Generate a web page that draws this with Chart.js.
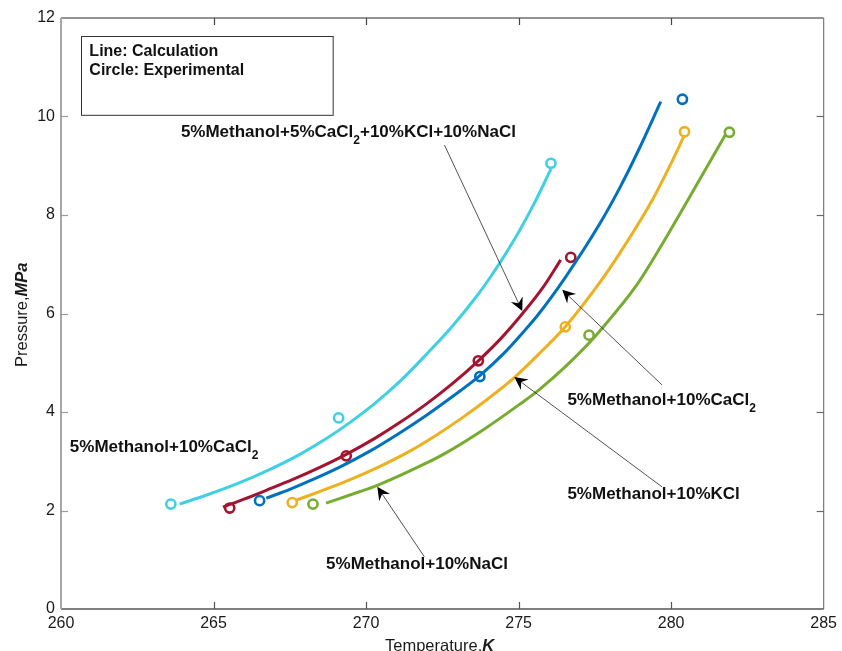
<!DOCTYPE html>
<html>
<head>
<meta charset="utf-8">
<script src="https://cdn.jsdelivr.net/npm/chart.js@4/dist/chart.umd.min.js"></script>
<style>
  html, body { margin: 0; padding: 0; background: #ffffff; }
  #wrap { width: 842px; height: 651px; position: relative; }
</style>
</head>
<body>
<div id="wrap"><canvas id="c" width="842" height="651"></canvas></div>
<script>
// ---- Calculated equilibrium curves: temperature (K) / pressure (MPa) ----
const cyanLineT   = [263.89, 264.8, 265.8, 266.8, 267.8, 268.7, 269.5, 270.3, 271.09, 271.9, 272.8, 273.6, 274.0, 274.5, 275.0, 275.5, 276.06];
const cyanLineP   = [2.13, 2.32, 2.55, 2.82, 3.13, 3.46, 3.80, 4.18, 4.61, 5.12, 5.72, 6.33, 6.67, 7.14, 7.65, 8.22, 8.93];

const redLineT    = [265.31, 266.0, 266.73, 267.6, 268.5, 269.35, 270.3, 271.09, 271.97, 272.8, 273.68, 274.4, 275.13, 275.8, 276.38];
const redLineP    = [2.07, 2.23, 2.41, 2.63, 2.88, 3.14, 3.47, 3.78, 4.16, 4.56, 5.04, 5.48, 6.0, 6.53, 7.09];

const blueLineT   = [266.73, 267.5, 268.3, 269.1, 270.11, 271.09, 271.97, 272.8, 273.73, 274.5, 275.18, 275.67, 276.55, 277.64, 278.29, 278.95, 279.66];
const blueLineP   = [2.25, 2.43, 2.64, 2.87, 3.20, 3.57, 3.93, 4.30, 4.74, 5.18, 5.64, 6.0, 6.75, 7.80, 8.52, 9.34, 10.30];

const yellowLineT = [267.71, 268.5, 269.3, 270.44, 271.42, 272.3, 273.1, 274.0, 274.86, 275.67, 276.53, 277.64, 278.29, 279.38, 280.0, 280.42];
const yellowLineP = [2.21, 2.39, 2.58, 2.89, 3.20, 3.53, 3.86, 4.27, 4.70, 5.18, 5.73, 6.61, 7.2, 8.3, 9.05, 9.6];

const greenLineT  = [268.69, 269.78, 270.33, 271.97, 272.62, 273.82, 275.02, 275.67, 276.5, 277.31, 277.64, 278.84, 279.7, 280.47, 281.13, 281.78];
const greenLineP  = [2.15, 2.38, 2.50, 2.96, 3.17, 3.63, 4.15, 4.45, 4.90, 5.40, 5.63, 6.55, 7.40, 8.22, 8.93, 9.63];

// ---- Experimental points ----
const cyanExpT   = [263.6, 269.1, 276.06];
const cyanExpP   = [2.13, 3.88, 9.05];
const redExpT    = [265.53, 269.35, 273.68, 276.71];
const redExpP    = [2.05, 3.11, 5.04, 7.14];
const blueExpT   = [266.51, 273.73, 280.37];
const blueExpP   = [2.20, 4.72, 10.35];
const yellowExpT = [267.58, 276.53, 280.44];
const yellowExpP = [2.16, 5.73, 9.69];
const greenExpT  = [268.26, 277.31, 281.91];
const greenExpP  = [2.13, 5.56, 9.68];

// ---- Axis ticks ----
const xTicks = [260, 265, 270, 275, 280, 285];
const yTicks = [0, 2, 4, 6, 8, 10, 12];

const FONT = '"Liberation Sans", Arial, Helvetica, sans-serif';
const COLORS = {
  cyan: '#3fd0e3',
  red: '#a2142f',
  blue: '#0072bd',
  yellow: '#edb120',
  green: '#77ac30'
};

const pairs = (xs, ys) => xs.map((x, i) => ({ x: x, y: ys[i] }));

function lineSet(xs, ys, color) {
  return {
    data: pairs(xs, ys),
    showLine: true,
    borderColor: color,
    borderWidth: 3,
    pointRadius: 0,
    cubicInterpolationMode: 'monotone',
    fill: false
  };
}
function pointSet(xs, ys, color) {
  return {
    data: pairs(xs, ys),
    showLine: false,
    borderColor: color,
    backgroundColor: 'rgba(0,0,0,0)',
    pointStyle: 'circle',
    pointRadius: 4.6,
    pointBorderWidth: 2.6
  };
}

// Text with "_n" marking a subscript digit
function drawRich(ctx, str, x, y, size) {
  const parts = str.split(/_(\d)/);
  let cx = x;
  parts.forEach((s, i) => {
    if (!s) return;
    const sub = i % 2 === 1;
    ctx.font = 'bold ' + (sub ? Math.round(size * 0.68) : size) + 'px ' + FONT;
    ctx.fillText(s, cx, sub ? y + size * 0.42 : y);
    cx += ctx.measureText(s).width;
  });
}

function drawArrow(ctx, x0, y0, x1, y1) {
  const a = Math.atan2(y1 - y0, x1 - x0);
  const ux = Math.cos(a), uy = Math.sin(a);
  const nx = -uy, ny = ux;
  const L = 13, W = 6.5, N = 8.5;
  ctx.strokeStyle = '#262626';
  ctx.lineWidth = 0.8;
  ctx.beginPath();
  ctx.moveTo(x0, y0);
  ctx.lineTo(x1 - N * ux, y1 - N * uy);
  ctx.stroke();
  ctx.fillStyle = '#000000';
  ctx.beginPath();
  ctx.moveTo(x1, y1);
  ctx.lineTo(x1 - L * ux + W * nx, y1 - L * uy + W * ny);
  ctx.lineTo(x1 - N * ux, y1 - N * uy);
  ctx.lineTo(x1 - L * ux - W * nx, y1 - L * uy - W * ny);
  ctx.closePath();
  ctx.fill();
}

// Frame with inward ticks, axis titles and the curve annotations
const decor = {
  id: 'decor',
  afterDraw(chart) {
    const ctx = chart.ctx;
    const xs = chart.scales.x, ys = chart.scales.y;
    const P = (t, p) => [xs.getPixelForValue(t), ys.getPixelForValue(p)];
    const L = xs.left, R = xs.right, T = ys.top, B = ys.bottom;
    ctx.save();

    // frame
    ctx.lineWidth = 1.2;
    ctx.strokeStyle = '#2b2b2b';
    ctx.beginPath(); ctx.moveTo(L, T); ctx.lineTo(R, T); ctx.stroke();
    ctx.strokeStyle = '#7a7a7a';
    ctx.beginPath(); ctx.moveTo(R, T); ctx.lineTo(R, B); ctx.stroke();
    ctx.strokeStyle = '#555555';
    ctx.lineWidth = 1.6;
    ctx.beginPath(); ctx.moveTo(L, B); ctx.lineTo(R, B); ctx.stroke();
    ctx.strokeStyle = '#a8a8a8';
    ctx.lineWidth = 2;
    ctx.beginPath(); ctx.moveTo(L, T); ctx.lineTo(L, B); ctx.stroke();

    // inward tick marks
    const tl = 7;
    ctx.lineWidth = 1.2;
    xTicks.slice(1, -1).forEach(v => {
      const x = Math.round(xs.getPixelForValue(v)) + 0.5;
      ctx.strokeStyle = '#555555';
      ctx.beginPath(); ctx.moveTo(x, B); ctx.lineTo(x, B - tl); ctx.stroke();
      ctx.strokeStyle = '#444444';
      ctx.beginPath(); ctx.moveTo(x, T); ctx.lineTo(x, T + tl); ctx.stroke();
    });
    yTicks.slice(1, -1).forEach(v => {
      const y = Math.round(ys.getPixelForValue(v)) + 0.5;
      ctx.strokeStyle = '#9a9a9a';
      ctx.beginPath(); ctx.moveTo(L, y); ctx.lineTo(L + tl, y); ctx.stroke();
      ctx.strokeStyle = '#666666';
      ctx.beginPath(); ctx.moveTo(R, y); ctx.lineTo(R - tl, y); ctx.stroke();
    });

    // note box
    const b0 = P(260.65, 11.63), b1 = P(268.9, 10.03);
    ctx.strokeStyle = '#333333';
    ctx.lineWidth = 1;
    ctx.strokeRect(Math.round(b0[0]) + 0.5, Math.round(b0[1]) + 0.5, b1[0] - b0[0], b1[1] - b0[1]);
    ctx.fillStyle = '#111111';
    ctx.textBaseline = 'alphabetic';
    ctx.textAlign = 'left';
    ctx.font = 'bold 16px ' + FONT;
    let q = P(260.93, 11.23);
    ctx.fillText('Line: Calculation', q[0], q[1]);
    q = P(260.93, 10.84);
    ctx.fillText('Circle: Experimental', q[0], q[1]);

    // curve labels
    const labels = [
      ['5%Methanol+5%CaCl_2+10%KCl+10%NaCl', 263.93, 9.58],
      ['5%Methanol+10%CaCl_2', 260.29, 3.19],
      ['5%Methanol+10%CaCl_2', 276.60, 4.14],
      ['5%Methanol+10%KCl', 276.60, 2.23],
      ['5%Methanol+10%NaCl', 268.69, 0.81]
    ];
    ctx.fillStyle = '#111111';
    labels.forEach(l => {
      const p = P(l[1], l[2]);
      drawRich(ctx, l[0], p[0], p[1], 17);
    });

    // pointer arrows
    const arrows = [
      [272.57, 9.42, 275.12, 6.05],
      [279.70, 4.55, 276.43, 6.48],
      [279.70, 2.48, 274.86, 4.71],
      [271.91, 1.06, 270.37, 2.48]
    ];
    arrows.forEach(a => {
      const s = P(a[0], a[1]), e = P(a[2], a[3]);
      drawArrow(ctx, s[0], s[1], e[0], e[1]);
    });

    // axis titles
    ctx.fillStyle = '#1a1a1a';
    const cx = 385, cy = 651;
    ctx.font = '16.5px ' + FONT;
    ctx.fillText('Temperature,', cx, cy);
    let w = ctx.measureText('Temperature,').width;
    ctx.font = 'italic bold 16.5px ' + FONT;
    ctx.fillText('K', cx + w, cy);

    ctx.translate(26.5, 367);
    ctx.rotate(-Math.PI / 2);
    ctx.font = '16.5px ' + FONT;
    ctx.fillText('Pressure,', 0, 0);
    w = ctx.measureText('Pressure,').width;
    ctx.font = 'italic bold 16.5px ' + FONT;
    ctx.fillText('MPa', w, 0);

    ctx.restore();
  }
};

new Chart(document.getElementById('c'), {
  type: 'scatter',
  data: {
    datasets: [
      lineSet(cyanLineT, cyanLineP, COLORS.cyan),
      lineSet(redLineT, redLineP, COLORS.red),
      lineSet(blueLineT, blueLineP, COLORS.blue),
      lineSet(yellowLineT, yellowLineP, COLORS.yellow),
      lineSet(greenLineT, greenLineP, COLORS.green),
      pointSet(cyanExpT, cyanExpP, COLORS.cyan),
      pointSet(redExpT, redExpP, COLORS.red),
      pointSet(blueExpT, blueExpP, COLORS.blue),
      pointSet(yellowExpT, yellowExpP, COLORS.yellow),
      pointSet(greenExpT, greenExpP, COLORS.green)
    ]
  },
  options: {
    responsive: false,
    animation: false,
    layout: { padding: { left: 0, right: 17, top: 18, bottom: 0 } },
    plugins: { legend: { display: false }, tooltip: { enabled: false } },
    scales: {
      x: {
        type: 'linear',
        min: 260, max: 285,
        afterBuildTicks: s => { s.ticks = xTicks.map(v => ({ value: v })); },
        afterFit: s => { s.height = 42; },
        grid: { display: false, drawTicks: false },
        border: { display: false },
        ticks: { color: '#1a1a1a', padding: 5, maxRotation: 0, font: { family: FONT, size: 16 } }
      },
      y: {
        type: 'linear',
        min: 0, max: 12,
        afterBuildTicks: s => { s.ticks = yTicks.map(v => ({ value: v })); },
        afterFit: s => { s.width = 61; },
        grid: { display: false, drawTicks: false },
        border: { display: false },
        ticks: { color: '#1a1a1a', padding: 6, font: { family: FONT, size: 16 } }
      }
    }
  },
  plugins: [decor]
});
</script>
</body>
</html>
